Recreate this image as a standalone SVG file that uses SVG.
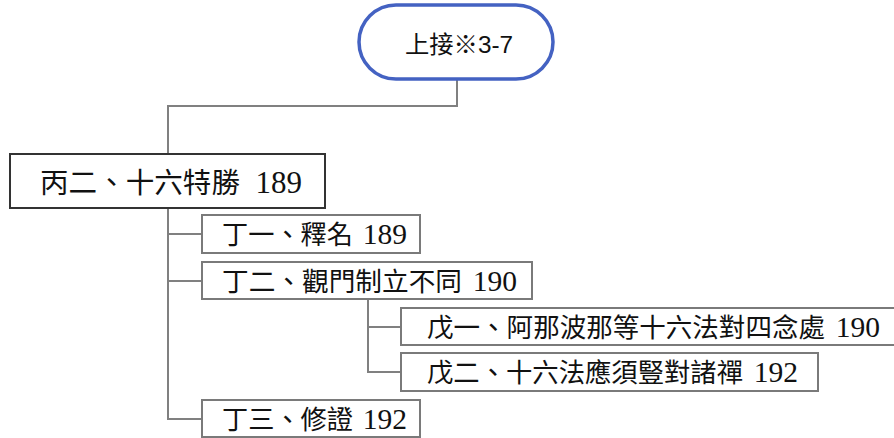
<svg xmlns="http://www.w3.org/2000/svg" width="894" height="438" viewBox="0 0 894 438">
<style>
.bg{fill:#ffffff}
.box{fill:#ffffff;stroke:#7a7a7a;stroke-width:2}
.main{fill:#ffffff;stroke:#333333;stroke-width:2}
.pill{fill:#ffffff;stroke:#4462C2;stroke-width:3.5}
.t{font-family:"Liberation Serif","Noto Sans CJK TC",serif;font-size:26.5px;fill:#111111}
.d{font-family:"Liberation Serif",serif;font-size:29.5px;fill:#111111;text-anchor:end}
.tm{font-family:"Liberation Serif","Noto Sans CJK TC",serif;font-size:28.5px;fill:#111111}
.dm{font-family:"Liberation Serif",serif;font-size:31px;fill:#111111;text-anchor:end}
.tp{font-family:"Liberation Sans","Noto Sans CJK TC",sans-serif;font-size:24px;fill:#111111}
.c{fill:none;stroke:#808080;stroke-width:2}
</style>
<rect class="bg" x="0" y="0" width="894" height="438"/>
<g id="connectors">
<path class="c" d="M457,79 V106 H168 V154"/>
<path class="c" d="M168,208 V419 H202"/>
<path class="c" d="M168,234 H202"/>
<path class="c" d="M168,281 H202"/>
<path class="c" d="M368,299 V372 H401"/>
<path class="c" d="M368,327 H401"/>
</g>
<g id="n0">
<rect class="pill" x="359" y="5" width="194" height="74" rx="37" ry="37"/>
<text class="tp" x="405" y="53" textLength="108" lengthAdjust="spacingAndGlyphs">上接※3-7</text>
</g>
<g id="n1">
<rect class="main" x="10" y="154" width="315" height="54"/>
<text class="tm" x="40" y="193" textLength="200" lengthAdjust="spacingAndGlyphs">丙二、十六特勝</text>
<text class="dm" x="302" y="193">189</text>
</g>
<g id="n2">
<rect class="box" x="202" y="215" width="218" height="38"/>
<text class="t" x="222" y="244" textLength="131" lengthAdjust="spacingAndGlyphs">丁一、釋名</text>
<text class="d" x="407" y="244">189</text>
</g>
<g id="n3">
<rect class="box" x="202" y="262" width="330" height="37"/>
<text class="t" x="222" y="291" textLength="240" lengthAdjust="spacingAndGlyphs">丁二、觀門制立不同</text>
<text class="d" x="517" y="291">190</text>
</g>
<g id="n4">
<rect class="box" x="401" y="308" width="496" height="37"/>
<text class="t" x="427" y="337" textLength="398" lengthAdjust="spacingAndGlyphs">戊一、阿那波那等十六法對四念處</text>
<text class="d" x="880" y="337">190</text>
</g>
<g id="n5">
<rect class="box" x="401" y="353" width="417" height="38"/>
<text class="t" x="427" y="382" textLength="316" lengthAdjust="spacingAndGlyphs">戊二、十六法應須豎對諸禪</text>
<text class="d" x="798" y="382">192</text>
</g>
<g id="n6">
<rect class="box" x="202" y="400" width="218" height="37"/>
<text class="t" x="222" y="429" textLength="131" lengthAdjust="spacingAndGlyphs">丁三、修證</text>
<text class="d" x="407" y="429">192</text>
</g>
</svg>
